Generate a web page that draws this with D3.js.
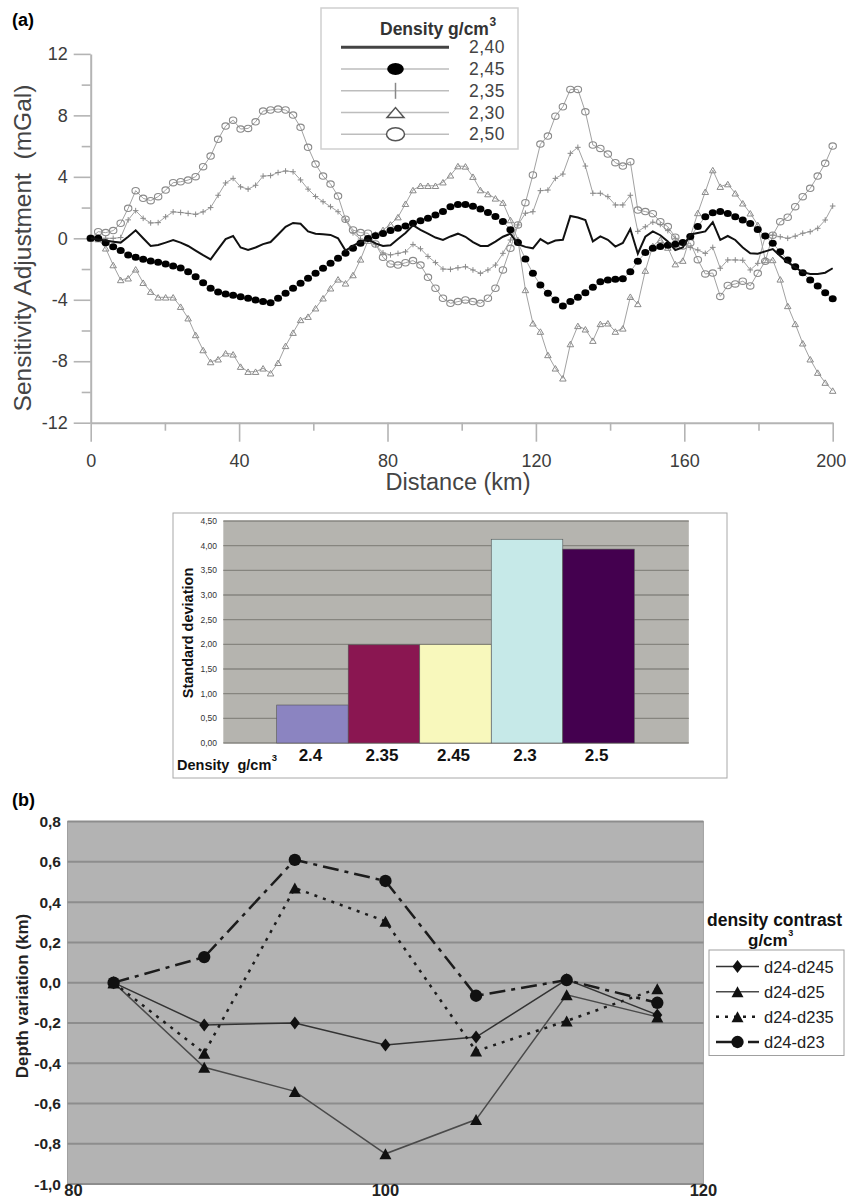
<!DOCTYPE html>
<html>
<head>
<meta charset="utf-8">
<script src="https://cdn.jsdelivr.net/npm/d3@7"></script>
<style>
  html, body { margin: 0; padding: 0; background: #fff; }
  svg { display: block; }
  text { font-family: "Liberation Sans", Arial, sans-serif; }
</style>
</head>
<body>
<svg id="fig" width="846" height="1200"></svg>
<script>
// ---------------- (a) gravity sensitivity along the profile ----------------
const profileLengthKm = 200;
const stationCount = 100;

const distanceTicks = [0, 40, 80, 120, 160, 200];
const distanceMinorTicks = [20, 60, 100, 140, 180];
const adjustTicks = [-12, -8, -4, 0, 4, 8, 12];
const adjustMinorTicks = [-10, -6, -2, 2, 6, 10];

const legendTitleA = "Density g/cm";
const densityLegend = ["2,40", "2,45", "2,35", "2,30", "2,50"];

// Sensitivity adjustment (mGal) at each station, one array per density
const adj240 = [0,-0.08,-0.15,-0.22,-0.28,0.1,0.52,0.0,-0.5,-0.44,
  -0.28,-0.11,-0.28,-0.5,-0.8,-1.1,-1.37,-0.7,-0.05,0.15,
  -0.6,-0.76,-0.6,-0.38,-0.24,0.25,0.75,1.0,0.95,0.45,
  0.3,0.26,0.22,0.0,-0.8,-0.5,-0.22,-0.07,-0.33,-0.5,
  -0.45,-0.05,0.35,0.85,0.55,0.3,0.05,-0.1,0.12,0.3,
  0.1,-0.25,-0.5,-0.5,-0.22,0.1,0.3,-0.38,-0.56,-0.65,
  -0.05,-0.35,-0.15,-0.1,1.45,1.35,1.19,-0.2,0.12,-0.1,
  -0.54,-0.3,0.6,-1.0,0.1,0.45,0.2,-0.2,-0.76,-0.6,
  0.25,0.35,0.45,1.05,-0.1,0.15,-0.11,-0.6,-0.98,-1.0,
  -0.85,-0.7,-1.15,-1.55,-1.9,-2.2,-2.32,-2.32,-2.24,-1.95];

const adj245 = [0,0,-0.29,-0.55,-0.8,-1.09,-1.24,-1.37,-1.48,-1.56,
  -1.67,-1.8,-1.93,-2.17,-2.5,-2.89,-3.25,-3.49,-3.62,-3.71,
  -3.8,-3.9,-4.01,-4.12,-4.2,-3.9,-3.57,-3.25,-2.93,-2.6,
  -2.28,-1.95,-1.63,-1.3,-0.97,-0.65,-0.33,-0.02,0.17,0.32,
  0.5,0.65,0.8,0.98,1.15,1.3,1.52,1.75,2.05,2.2,
  2.2,2.08,1.9,1.68,1.42,1.1,0.55,-0.28,-1.35,-2.28,
  -3.04,-3.58,-4.01,-4.4,-4.12,-3.84,-3.54,-3.19,-2.82,-2.71,
  -2.67,-2.63,-2.17,-1.5,-0.93,-0.65,-0.54,-0.46,-0.39,-0.28,
  0.11,0.76,1.41,1.67,1.75,1.62,1.41,1.19,0.97,0.58,
  0.15,-0.33,-0.87,-1.41,-1.85,-2.24,-2.71,-3.1,-3.54,-3.93];

const adj235 = [0,0,0,0,0.05,1.2,1.8,1.3,1.0,1.02,
  1.4,1.72,1.68,1.62,1.56,1.72,2.0,2.8,3.6,3.9,
  3.35,3.2,3.45,4.05,4.08,4.28,4.38,4.33,3.8,3.2,
  2.72,2.38,2.06,1.73,1.2,0.35,-0.05,-0.1,-0.42,-0.95,
  -1.08,-0.98,-0.88,-0.4,-0.68,-1.18,-1.58,-2.0,-2.02,-1.92,
  -1.85,-2.06,-2.28,-2.06,-1.74,-0.98,-0.11,0.87,1.63,1.73,
  3.1,3.14,3.9,4.18,5.53,5.92,4.7,2.93,2.93,2.71,
  2.17,2.17,2.8,0.45,0.75,1.05,0.9,0.5,0.0,-0.33,
  -0.6,-0.76,-0.98,-0.59,-1.95,-1.41,-1.41,-1.43,-2.06,-1.63,
  0.11,0.21,0.1,0.0,0.14,0.33,0.43,0.65,1.19,2.1];

const adj230 = [0,-0.05,-0.65,-1.74,-2.71,-2.6,-2.02,-2.89,-3.47,-3.84,
  -3.84,-3.84,-4.45,-5.2,-6.29,-7.27,-8.05,-7.87,-7.48,-7.55,
  -8.35,-8.68,-8.68,-8.46,-8.78,-8.1,-7.0,-6.14,-5.31,-5.1,
  -4.55,-3.9,-3.25,-2.67,-2.93,-2.39,-1.37,-0.15,0.25,0.55,
  0.9,1.38,2.25,3.14,3.42,3.42,3.42,3.65,4.1,4.7,
  4.68,4.01,3.14,2.88,2.6,2.32,1.19,-0.11,-3.36,-5.53,
  -6.07,-7.59,-8.46,-9.11,-6.88,-5.7,-5.92,-6.66,-5.57,-5.53,
  -6.07,-5.86,-3.8,-4.27,-2.1,-0.5,-0.1,-0.6,-1.68,-1.45,
  0.11,1.65,3.03,4.44,3.36,3.53,2.93,2.28,1.63,0.87,
  -1.41,-1.41,-2.67,-4.4,-5.57,-6.83,-7.87,-8.74,-9.39,-9.91];

const adj250 = [0,0.43,0.37,0.5,0.98,1.95,3.1,2.6,2.45,2.71,
  3.14,3.62,3.68,3.79,4.01,4.66,5.35,6.44,7.3,7.69,
  7.11,7.15,7.58,8.28,8.35,8.41,8.35,8.02,7.22,5.92,
  4.83,4.05,3.53,2.75,1.24,0.54,0.37,0.33,-0.37,-1.24,
  -1.67,-1.74,-1.59,-1.45,-1.74,-2.54,-3.25,-3.9,-4.23,-4.12,
  -4.01,-4.12,-4.23,-3.9,-3.25,-2.06,-0.65,0.87,2.32,4.12,
  6.13,6.65,7.95,8.56,9.69,9.69,8.23,6.07,5.85,5.48,
  4.92,4.7,4.98,1.84,1.74,1.6,1.08,0.76,0.07,-0.5,
  -0.3,-1.39,-2.32,-2.26,-3.78,-3.07,-2.97,-2.79,-3.1,-2.28,
  -1.5,0.2,1.08,1.37,2.06,2.71,3.25,4.05,4.88,6.0];

// ---------------- bar chart: standard deviation per density ----------------
const barDensities = ["2.4", "2.35", "2.45", "2.3", "2.5"];
const stdDeviation = [0.77, 1.99, 2.0, 4.13, 3.93];
const stdTicks = [0, 0.5, 1, 1.5, 2, 2.5, 3, 3.5, 4, 4.5];
const barFill = ["#8b84c1", "#8a1651", "#f8f8bc", "#c6e9e8", "#44004f"];

// ---------------- (b) depth variation ----------------
const depthKm = [82.9, 88.6, 94.3, 100, 105.7, 111.4, 117.1];
const d24_d245 = [0, -0.21, -0.2, -0.31, -0.27, 0.015, -0.16];
const d24_d25 = [0, -0.42, -0.54, -0.85, -0.68, -0.06, -0.17];
const d24_d235 = [0, -0.35, 0.47, 0.305, -0.34, -0.19, -0.03];
const d24_d23 = [0, 0.127, 0.61, 0.505, -0.065, 0.013, -0.1];
const depthTicks = [-1, -0.8, -0.6, -0.4, -0.2, 0, 0.2, 0.4, 0.6, 0.8];
const depthXTicks = [80, 100, 120];
const contrastNames = ["d24-d245", "d24-d25", "d24-d235", "d24-d23"];

// ==========================================================================
const svg = d3.select("#fig");
svg.append("rect").attr("width", 846).attr("height", 1200).attr("fill", "#fff");

const commaLocale = d3.formatLocale({ decimal: ",", thousands: ".", grouping: [3], currency: ["", ""], minus: "-" });
const fmt2 = commaLocale.format(".2f");
const fmt1 = commaLocale.format(".1f");

function triPath(w, h) { return `M${-w / 2},${h / 2}L0,${-h / 2}L${w / 2},${h / 2}Z`; }
function plusPath(s) { return `M${-s},0H${s}M0,${-s}V${s}`; }

// a unit label such as "g/cm" followed by a raised "3"
function unitWithCube(parent, x, y, label, size, supSize, rise, fill) {
  const t = parent.append("text").attr("x", x).attr("y", y).attr("font-size", size)
    .attr("font-weight", "bold").attr("fill", fill).style("white-space", "pre").text(label);
  const w = t.node().getComputedTextLength();
  parent.append("text").attr("x", x + w + 0.5).attr("y", y - rise).attr("font-size", supSize)
    .attr("font-weight", "bold").attr("fill", fill).text("3");
}

// ---------- panel (a) ----------
const stationKm = d3.range(stationCount).map(i => i * profileLengthKm / (stationCount - 1));
const xA = d3.scaleLinear().domain([0, 200]).range([90.7, 832.7]);
const yA = d3.scaleLinear().domain([-12, 12]).range([422.7, 53.9]);
const axisGray = "#b4b4b4";

svg.append("text").attr("x", 12).attr("y", 26).attr("font-size", 18).attr("font-weight", "bold").text("(a)");

function styleAxis(g, fontSize) {
  g.select(".domain").attr("stroke", axisGray).attr("stroke-width", 2);
  g.selectAll(".tick line").attr("stroke", axisGray).attr("stroke-width", 1.6);
  g.selectAll(".tick text").attr("fill", "#3c3c3c").attr("font-size", fontSize)
    .attr("font-family", '"Liberation Sans", Arial, sans-serif');
}

const gxA = svg.append("g").attr("transform", `translate(0,${yA(-12)})`)
  .call(d3.axisBottom(xA).tickValues(distanceTicks).tickSize(19).tickSizeOuter(0).tickPadding(13).tickFormat(d => String(d)));
styleAxis(gxA, 18);
// the last distance label sits against the right page edge
gxA.selectAll(".tick text").filter(d => d === 200).attr("text-anchor", "end").attr("dx", "13");
const gxAm = svg.append("g").attr("transform", `translate(0,${yA(-12)})`)
  .call(d3.axisBottom(xA).tickValues(distanceMinorTicks).tickSize(8).tickFormat(""));
gxAm.select(".domain").remove();
gxAm.selectAll(".tick line").attr("stroke", axisGray).attr("stroke-width", 1.6);

const gyA = svg.append("g").attr("transform", `translate(${xA(0)},0)`)
  .call(d3.axisLeft(yA).tickValues(adjustTicks).tickSize(17).tickSizeOuter(0).tickPadding(6).tickFormat(d => String(d)));
styleAxis(gyA, 18);
const gyAm = svg.append("g").attr("transform", `translate(${xA(0)},0)`)
  .call(d3.axisLeft(yA).tickValues(adjustMinorTicks).tickSize(9).tickFormat(""));
gyAm.select(".domain").remove();
gyAm.selectAll(".tick line").attr("stroke", axisGray).attr("stroke-width", 1.6);

svg.append("text").attr("transform", "translate(31,248) rotate(-90)")
  .attr("text-anchor", "middle").attr("font-size", 24.5).attr("fill", "#444")
  .style("white-space", "pre").text("Sensitivity Adjustment  (mGal)");
svg.append("text").attr("x", 458).attr("y", 490).attr("text-anchor", "middle")
  .attr("font-size", 23.5).attr("fill", "#444").text("Distance (km)");

const lineA = d3.line().x((d, i) => xA(stationKm[i])).y(d => yA(d));
const gPlot = svg.append("g");
const grayLine = "#a2a2a2";
const grayMark = "#8a8a8a";

// 2,50 open circles
gPlot.append("path").datum(adj250).attr("d", lineA).attr("fill", "none").attr("stroke", grayLine).attr("stroke-width", 1);
gPlot.append("g").selectAll("ellipse").data(adj250).join("ellipse")
  .attr("cx", (d, i) => xA(stationKm[i])).attr("cy", d => yA(d))
  .attr("rx", 3.7).attr("ry", 3.2).attr("fill", "none").attr("stroke", grayMark).attr("stroke-width", 1.1);
// 2,30 open triangles
gPlot.append("path").datum(adj230).attr("d", lineA).attr("fill", "none").attr("stroke", grayLine).attr("stroke-width", 1);
gPlot.append("g").selectAll("path").data(adj230).join("path")
  .attr("transform", (d, i) => `translate(${xA(stationKm[i])},${yA(d)})`)
  .attr("d", triPath(6.5, 5.5)).attr("fill", "none").attr("stroke", grayMark).attr("stroke-width", 1);
// 2,35 crosses
gPlot.append("path").datum(adj235).attr("d", lineA).attr("fill", "none").attr("stroke", grayLine).attr("stroke-width", 1);
gPlot.append("g").selectAll("path").data(adj235).join("path")
  .attr("transform", (d, i) => `translate(${xA(stationKm[i])},${yA(d)})`)
  .attr("d", plusPath(2.8)).attr("fill", "none").attr("stroke", grayMark).attr("stroke-width", 1);
// 2,45 filled circles
gPlot.append("path").datum(adj245).attr("d", lineA).attr("fill", "none").attr("stroke", "#aaa").attr("stroke-width", 1);
gPlot.append("g").selectAll("ellipse").data(adj245).join("ellipse")
  .attr("cx", (d, i) => xA(stationKm[i])).attr("cy", d => yA(d))
  .attr("rx", 4).attr("ry", 3.5).attr("fill", "#000");
// 2,40 solid line
gPlot.append("path").datum(adj240).attr("d", lineA).attr("fill", "none").attr("stroke", "#111").attr("stroke-width", 2);

// legend of panel (a)
const legA = svg.append("g");
legA.append("rect").attr("x", 321).attr("y", 8).attr("width", 197).attr("height", 141)
  .attr("fill", "#fff").attr("stroke", "#cfcfcf").attr("stroke-width", 1.5);
unitWithCube(legA, 380, 35, legendTitleA, 17.5, 12, 9, "#333");
const legRowY = d3.scalePoint().domain(densityLegend).range([47.3, 134.3]);
densityLegend.forEach((lab, k) => {
  const y = legRowY(lab);
  const row = legA.append("g");
  row.append("line").attr("x1", 341).attr("x2", 449).attr("y1", y).attr("y2", y)
    .attr("stroke", k === 0 ? "#444" : "#bdbdbd").attr("stroke-width", k === 0 ? 3 : 1.5);
  if (k === 1) row.append("ellipse").attr("cx", 395.5).attr("cy", y).attr("rx", 8.3).attr("ry", 6).attr("fill", "#000");
  if (k === 2) row.append("line").attr("x1", 395.5).attr("x2", 395.5).attr("y1", y - 8).attr("y2", y + 8)
    .attr("stroke", "#888").attr("stroke-width", 1.5);
  if (k === 3) row.append("path").attr("transform", `translate(395.5,${y})`).attr("d", triPath(17, 10))
    .attr("fill", "#fff").attr("stroke", "#555").attr("stroke-width", 1.5);
  if (k === 4) row.append("ellipse").attr("cx", 395.5).attr("cy", y).attr("rx", 9).attr("ry", 6.5)
    .attr("fill", "#fff").attr("stroke", "#555").attr("stroke-width", 1.5);
  row.append("text").attr("x", 469).attr("y", y + 6).attr("font-size", 17.5).attr("fill", "#444")
    .attr("letter-spacing", 0.5).text(lab);
});

// ---------- bar chart ----------
const gB = svg.append("g");
gB.append("rect").attr("x", 173).attr("y", 513).attr("width", 554).attr("height", 265)
  .attr("fill", "#fff").attr("stroke", "#a8a8a8").attr("stroke-width", 1);
const xB = d3.scaleBand().domain(barDensities).range([276.7, 634.3]).padding(0);
const yB = d3.scaleLinear().domain([0, 4.5]).range([743, 521]);
gB.append("rect").attr("x", 223.3).attr("y", yB(4.5)).attr("width", 465.5).attr("height", yB(0) - yB(4.5))
  .attr("fill", "#b5b4af");
gB.append("g").selectAll("line").data(stdTicks).join("line")
  .attr("x1", 223.3).attr("x2", 688.8).attr("y1", d => yB(d)).attr("y2", d => yB(d))
  .attr("stroke", "#86857f").attr("stroke-width", 1.4);
gB.append("g").selectAll("text").data(stdTicks).join("text")
  .attr("x", 217).attr("y", d => yB(d) + 3).attr("text-anchor", "end")
  .attr("font-size", 8.5).attr("fill", "#333").text(d => fmt2(d));
gB.append("g").selectAll("rect").data(stdDeviation).join("rect")
  .attr("x", (d, i) => xB(barDensities[i])).attr("width", xB.bandwidth())
  .attr("y", d => yB(d)).attr("height", d => yB(0) - yB(d))
  .attr("fill", (d, i) => barFill[i]).attr("stroke", "#555").attr("stroke-width", 0.6);
gB.append("g").selectAll("text").data(barDensities).join("text")
  .attr("x", d => xB(d) + xB.bandwidth() / 2 - 2).attr("y", 761).attr("text-anchor", "middle")
  .attr("font-size", 17).attr("font-weight", "bold").attr("fill", "#111").text(d => d);
unitWithCube(gB, 177, 770, "Density  g/cm", 14.5, 9.5, 9, "#111");
gB.append("text").attr("transform", "translate(193,633) rotate(-90)").attr("text-anchor", "middle")
  .attr("font-size", 14.5).attr("font-weight", "bold").attr("fill", "#111").text("Standard deviation");

// ---------- panel (b) ----------
const gC = svg.append("g");
gC.append("text").attr("x", 12).attr("y", 806).attr("font-size", 18).attr("font-weight", "bold").text("(b)");
const xC = d3.scaleLinear().domain([80, 120]).range([67.5, 703.4]);
const yC = d3.scaleLinear().domain([-1, 0.8]).range([1184, 821.6]);
gC.append("rect").attr("x", xC(80)).attr("y", yC(0.8)).attr("width", xC(120) - xC(80)).attr("height", yC(-1) - yC(0.8))
  .attr("fill", "#b3b3b3").attr("stroke", "#a0a0a0").attr("stroke-width", 1);
gC.append("g").selectAll("line").data(depthTicks).join("line")
  .attr("x1", xC(80)).attr("x2", xC(120)).attr("y1", d => yC(d)).attr("y2", d => yC(d))
  .attr("stroke", "#8d8d8d").attr("stroke-width", 2);
gC.append("g").selectAll("text").data(depthTicks).join("text")
  .attr("x", 61).attr("y", d => yC(d) + 5.5).attr("text-anchor", "end")
  .attr("font-size", 15.5).attr("font-weight", "bold").attr("fill", "#222").text(d => fmt1(d));
gC.append("g").selectAll("text").data(depthXTicks).join("text")
  .attr("x", d => xC(d) + (d === 80 ? 6 : 0)).attr("y", 1195.5).attr("text-anchor", "middle")
  .attr("font-size", 16.5).attr("font-weight", "bold").attr("fill", "#222").text(d => d);
gC.append("text").attr("transform", "translate(28,996) rotate(-90)").attr("text-anchor", "middle")
  .attr("font-size", 17).attr("font-weight", "bold").attr("fill", "#222").text("Depth variation (km)");

const lineC = d3.line().x((d, i) => xC(depthKm[i])).y(d => yC(d));
const depthSeries = [
  { name: contrastNames[0], values: d24_d245, stroke: "#333", width: 1.5, dash: null, mark: "diamond" },
  { name: contrastNames[1], values: d24_d25, stroke: "#4a4a4a", width: 1.5, dash: null, mark: "triangle" },
  { name: contrastNames[2], values: d24_d235, stroke: "#1c1c1c", width: 2.5, dash: "3,6", mark: "triangle" },
  { name: contrastNames[3], values: d24_d23, stroke: "#1c1c1c", width: 2.5, dash: "16,6,4,6", mark: "circle" }
];
const markPath = {
  diamond: "M0,-6.5L5,0L0,6.5L-5,0Z",
  triangle: triPath(12, 11),
  circle: d3.symbol(d3.symbolCircle, 120)()
};
depthSeries.forEach(s => {
  gC.append("path").datum(s.values).attr("d", lineC).attr("fill", "none")
    .attr("stroke", s.stroke).attr("stroke-width", s.width).attr("stroke-dasharray", s.dash);
});
depthSeries.forEach(s => {
  gC.append("g").selectAll("path").data(s.values).join("path")
    .attr("transform", (d, i) => `translate(${xC(depthKm[i])},${yC(d)})`)
    .attr("d", markPath[s.mark]).attr("fill", "#111");
});

// legend of panel (b)
const legC = svg.append("g");
legC.append("text").attr("x", 707).attr("y", 926).attr("font-size", 17.5).attr("font-weight", "bold")
  .attr("fill", "#111").text("density contrast");
unitWithCube(legC, 748, 946, "g/cm", 17, 9, 10, "#111");
legC.append("rect").attr("x", 709).attr("y", 950).attr("width", 135).attr("height", 105.5)
  .attr("fill", "#fff").attr("stroke", "#a0a0a0").attr("stroke-width", 1);
const legCY = d3.scalePoint().domain(contrastNames).range([966.5, 1042]);
depthSeries.forEach(s => {
  const y = legCY(s.name);
  legC.append("line").attr("x1", 716).attr("x2", 759).attr("y1", y).attr("y2", y)
    .attr("stroke", s.stroke).attr("stroke-width", s.width).attr("stroke-dasharray", s.dash);
  legC.append("path").attr("transform", `translate(737.5,${y})`).attr("d", markPath[s.mark]).attr("fill", "#111");
  legC.append("text").attr("x", 764).attr("y", y + 6).attr("font-size", 16.5).attr("fill", "#222").text(s.name);
});
</script>
</body>
</html>
